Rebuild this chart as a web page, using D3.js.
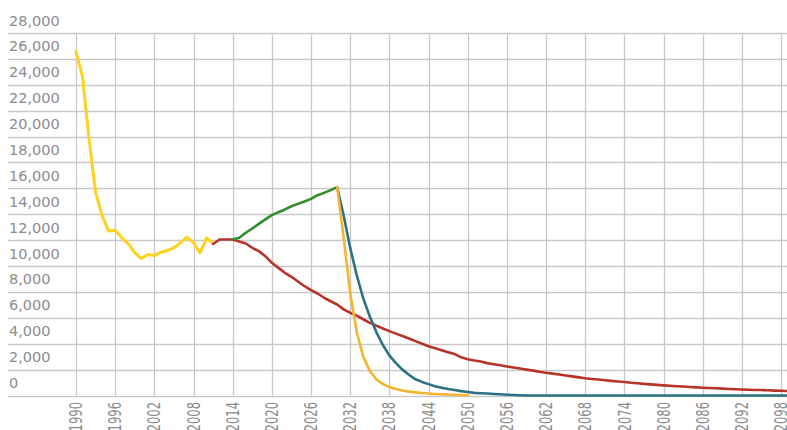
<!DOCTYPE html>
<html><head><meta charset="utf-8">
<script src="https://cdn.jsdelivr.net/npm/d3@7"></script>
<style>body{margin:0;background:#fff}svg{display:block}</style>
</head><body>
<svg id="c" width="787" height="430"></svg>
<script>
const yTicks = [0,2000,4000,6000,8000,10000,12000,14000,16000,18000,20000,22000,24000,26000,28000];
const xTicks = d3.range(1990, 2099, 6);

const histYears = d3.range(1990, 2012);
const histValues = [26550,24620,19800,15700,13900,12700,12770,12180,11740,11020,10580,10890,10810,11070,11200,11410,11790,12230,11790,11020,12180,11740];

const greenYears = d3.range(2014, 2031);
const greenValues = [12050,12180,12570,12900,13260,13600,13930,14160,14370,14620,14800,14990,15190,15470,15650,15860,16090];

const redYears = d3.range(2011, 2100);
const redValues = [11700,12050,12050,12050,11900,11740,11410,11150,10760,10250,9860,9480,9170,8810,8440,8140,7880,7550,7280,7030,
  6650,6390,6170,5890,5610,5400,5180,4970,4780,4600,4400,4200,4000,3810,3650,3500,3350,3200,2950,2800,
  2700,2620,2500,2420,2330,2240,2160,2080,2000,1920,1840,1760,1690,1620,1550,1480,1400,1330,1280,1230,
  1180,1130,1080,1040,990,950,900,860,820,780,750,720,690,660,630,600,580,560,530,500,
  480,460,440,430,420,400,380,370,350];

const tealYears = d3.range(2030, 2100);
const tealValues = [16090,13900,11400,9300,7500,6100,4900,3900,3100,2500,2000,1600,1250,1050,880,720,600,500,420,340,
  270,200,170,150,120,100,60,40,20,0,0,0,0,0,0,0,0,0,0,0,
  0,0,0,0,0,0,0,0,0,0,0,0,0,0,0,0,0,0,0,0,
  0,0,0,0,0,0,0,0,0,0];

const orangeYears = d3.range(2030, 2051);
const orangeValues = [16090,12200,7900,4900,3000,1900,1250,900,650,500,380,300,240,190,150,120,100,80,60,40,20];

const svg = d3.select("#c");
const x = d3.scaleLinear().domain([1990, 2099]).range([76, 787.6]);
const y = d3.scaleLinear().domain([0, 28000]).range([395.5, 33]);
const grid = "#c9c9c9", txt = "#8c8c8c";
const font = "DejaVu Sans, Verdana, sans-serif";

// horizontal gridlines + labels
const gy = svg.append("g");
yTicks.forEach(v => {
  gy.append("line").attr("x1", 8).attr("x2", 787).attr("y1", Math.round(y(v)) + 0.5).attr("y2", Math.round(y(v)) + 0.5)
    .attr("stroke", grid).attr("stroke-width", 1.3);
  gy.append("text").attr("x", 9).attr("y", y(v) - 7.5).attr("fill", txt)
    .attr("font-family", font).attr("font-size", 14.5).text(d3.format(",")(v));
});
// vertical gridlines + labels
const gx = svg.append("g");
xTicks.forEach(t => {
  gx.append("line").attr("x1", Math.round(x(t)) + 0.5).attr("x2", Math.round(x(t)) + 0.5).attr("y1", y(28000)).attr("y2", y(0))
    .attr("stroke", grid).attr("stroke-width", 1.3);
  gx.append("text").attr("transform", `translate(${x(t)},402) rotate(-90) scale(0.68,1)`)
    .attr("text-anchor", "end").attr("dy", "0.36em").attr("fill", txt)
    .attr("font-family", font).attr("font-size", 17).text(t);
});

const line = d3.line().x(d => x(d[0])).y(d => y(d[1]));
function draw(years, vals, color, w) {
  svg.append("path").datum(years.map((yr, i) => [yr, vals[i]]))
    .attr("d", line).attr("fill", "none").attr("stroke", color).attr("stroke-width", w)
    .attr("stroke-linejoin", "round").attr("stroke-linecap", "round");
}
draw(histYears, histValues, "#ffd21f", 3);
draw(redYears, redValues, "#b8342b", 2.6);
draw(greenYears, greenValues, "#2f8d2a", 2.6);
draw(tealYears, tealValues, "#2d7283", 2.6);
draw(orangeYears, orangeValues, "#f6b531", 2.6);
</script>
</body></html>
